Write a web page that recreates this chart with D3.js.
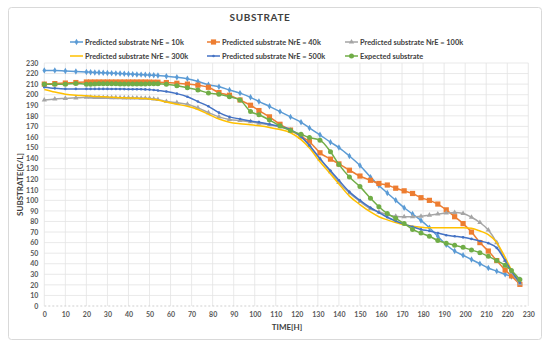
<!DOCTYPE html>
<html><head><meta charset="utf-8">
<script src="https://cdn.jsdelivr.net/npm/d3@7/dist/d3.min.js"></script>
<style>body{margin:0;background:#fff;}svg{display:block;}</style>
</head><body>
<svg id="c" width="550" height="348"></svg>
<script>
const title = "SUBSTRATE";
const xLabel = "TIME[H]";
const yLabel = "SUBSTRATE[G/L]";
const xTicks = d3.range(0, 231, 10);
const yTicks = d3.range(0, 231, 10);
const seriesNames = ["Predicted substrate NrE = 10k","Predicted substrate NrE = 40k","Predicted substrate NrE = 100k","Predicted substrate NrE = 300k","Predicted substrate NrE = 500k","Expected substrate"];
const seriesColors = ["#5B9BD5","#ED7D31","#A5A5A5","#FFC000","#4472C4","#70AD47"];
const seriesMarkers = ["diamond","square","triangle","none","dot","circle"];

const time = [0,5,10,15,20,22,24,26,28,30,32,34,36,38,40,42,44,46,48,50,52,54,58,63,68,73,78,83,88,93,98,102,107,112,117,122,126,131,136,140,145,150,155,159,163,167,171,175,179,183,187,191,195,199,203,207,211,215,219,222,226];

const s10k = [223,223,222.5,222,221.5,221.3,221.1,221,220.8,220.6,220.4,220.2,220,219.8,219.6,219.4,219.2,219,218.8,218.6,218.4,218.2,
217.5,216.5,215,212.5,209.5,207.5,204.5,201.5,197.5,
193.5,189,184,179,174,168.5,162,155,150,142,133,
122,114,107,100,93,87,81,74,66,58,52,48,44,40,36,33,30,28,25];
const s40k = [210,210.5,211,211.5,212,212,212,212,212,212,212,212,212,212,212,212,212,212,212,211.9,211.8,211.8,
211.5,210.8,210,209,207,202,199.5,195,190,
185,179,172,166.5,160.5,155.5,145,139,134.5,128.5,123,
119,116,114.5,111.5,109,106.5,102.5,100,96.5,91,84.5,78,70,60,52,43,34,28.5,20.5];
const s100k = [195,196,196.5,197,197.5,197.5,197.4,197.4,197.3,197.3,197.2,197.2,197.1,197,197,196.9,196.8,196.7,196.6,196.5,196,195.5,
193.5,192.5,191,187.5,183,179,176.5,175.5,174.5,
173,171.5,169.5,166.5,160,152,139,127,117,107,99,
92,89,86.5,85,84.5,84.5,85,86,87,88,88.5,87.5,84,79,72,60,43,32,21];
const s300k = [205,202.5,200.5,199.5,199,198.7,198.4,198.2,198,197.8,197.6,197.4,197.2,197,196.9,196.8,196.6,196.5,196.3,196,195.5,195,
193,191,189,186,181.5,177,174,172.5,171.5,
170.5,169,167,164,157.5,149.5,136.5,125,115.5,104,96,
89,84.5,81.5,79,77,75.5,74.5,74,74,74,74,74,73.5,71,67.5,60,46,34,22];
const s500k = [207,206,205.5,205.5,205.5,205.5,205.5,205.5,205.5,205.5,205.4,205.4,205.3,205.3,205.2,205.2,205.1,205.1,205,204.8,204.5,204,
203,201,198,193.5,189,183,179,177,175,
174,172,170,167,160.5,152,139.5,128,119,108,100,
93,88.5,84,80.5,77.5,75,72.5,71,69,67,66,65,63.5,61.5,59.5,55,43,33,22];
const sExp = [210,210,210,210.5,210,210,210.2,210.3,210.3,210.3,210.3,210.3,210.2,210.2,210.2,210.2,210.2,210.2,210.2,210.3,210.3,210.4,
210,208.5,206.5,204.5,201.5,200.5,198,195,184,
181,176,170.5,166,162.5,159.5,157,146,134,122,113,
102,94,87.5,83,78,72.5,69,66,62,59.5,57.5,55.5,53,50.5,47,43,38.5,33.5,25];
const seriesValues = [s10k,s40k,s100k,s300k,s500k,sExp];

const svg = d3.select("#c");
const font = "Lato, 'Open Sans', sans-serif";
svg.append("rect").attr("x",8.5).attr("y",7.5).attr("width",533).attr("height",332)
  .attr("rx",3).attr("fill","#fff").attr("stroke","#D9D9D9").attr("stroke-width",1);

const x = d3.scaleLinear().domain([0,230]).range([44.3,528.3]);
const y = d3.scaleLinear().domain([0,230]).range([306,63]);

// grid
const g = svg.append("g");
g.selectAll(".hg").data(yTicks.filter(d=>d>0)).join("line")
  .attr("x1",x(0)).attr("x2",x(230)).attr("y1",d=>y(d)).attr("y2",d=>y(d))
  .attr("stroke","#E3E3E3").attr("stroke-width",0.8);
g.selectAll(".vg").data(xTicks.filter(d=>d>0)).join("line")
  .attr("y1",y(0)).attr("y2",y(230)).attr("x1",d=>x(d)).attr("x2",d=>x(d))
  .attr("stroke","#E3E3E3").attr("stroke-width",0.8);
g.append("line").attr("x1",x(0)).attr("x2",x(230)).attr("y1",y(0)).attr("y2",y(0))
  .attr("stroke","#CFCFCF").attr("stroke-width",1).attr("stroke-dasharray","2,2");
g.append("line").attr("x1",x(0)).attr("x2",x(0)).attr("y1",y(0)).attr("y2",y(230))
  .attr("stroke","#E3E3E3").attr("stroke-width",0.8);

// axes
const xAxis = d3.axisBottom(x).tickValues(xTicks).tickSize(0).tickPadding(6);
const yAxis = d3.axisLeft(y).tickValues(yTicks).tickSize(0).tickPadding(6);
const ax = svg.append("g").attr("transform",`translate(0,${y(0)})`).call(xAxis);
const ay = svg.append("g").attr("transform",`translate(${x(0)},0)`).call(yAxis);
[ax,ay].forEach(a=>{a.select(".domain").remove();
  a.selectAll("text").attr("font-family",font).attr("font-size",7).attr("font-weight","bold").attr("fill","#595959");});

// series
const line = d3.line().x(d=>x(d[0])).y(d=>y(d[1])).curve(d3.curveMonotoneX);
function marker(sel, type, color, cx, cy){
  if(type==="diamond") sel.append("path").attr("d",d3.symbol(d3.symbolDiamond,12)()).attr("transform",`translate(${cx},${cy})`).attr("fill",color);
  else if(type==="square") sel.append("rect").attr("x",cx-2.6).attr("y",cy-2.6).attr("width",5.2).attr("height",5.2).attr("fill",color);
  else if(type==="triangle") sel.append("path").attr("d",d3.symbol(d3.symbolTriangle,12)()).attr("transform",`translate(${cx},${cy})`).attr("fill",color);
  else if(type==="dot") sel.append("circle").attr("cx",cx).attr("cy",cy).attr("r",1.3).attr("fill",color);
  else if(type==="circle") sel.append("circle").attr("cx",cx).attr("cy",cy).attr("r",2.5).attr("fill",color);
}
seriesValues.forEach((vals,i)=>{
  const pts = time.map((t,j)=>[t,vals[j]]);
  const sg = svg.append("g");
  sg.append("path").attr("d",line(pts)).attr("fill","none").attr("stroke",seriesColors[i]).attr("stroke-width",1.5);
  if(seriesMarkers[i]!=="none") pts.forEach(p=>marker(sg,seriesMarkers[i],seriesColors[i],x(p[0]),y(p[1])));
});

// title & labels
svg.append("text").attr("x",260).attr("y",21).attr("text-anchor","middle").attr("font-family",font)
  .attr("font-size",10).attr("font-weight","bold").attr("fill","#404040").attr("letter-spacing",0.6).text(title);
svg.append("text").attr("x",287).attr("y",330).attr("text-anchor","middle").attr("font-family",font)
  .attr("font-size",8).attr("font-weight","bold").attr("fill","#404040").text(xLabel);
svg.append("text").attr("transform",`translate(23,${(y(0)+y(230))/2}) rotate(-90)`).attr("text-anchor","middle").attr("font-family",font)
  .attr("font-size",8).attr("font-weight","bold").attr("fill","#404040").text(yLabel);

// legend
const legX = [70,207,345], legY = [42,56];
seriesNames.forEach((n,i)=>{
  const lx = legX[i%3], ly = legY[Math.floor(i/3)];
  const lg = svg.append("g");
  lg.append("line").attr("x1",lx).attr("x2",lx+13).attr("y1",ly).attr("y2",ly).attr("stroke",seriesColors[i]).attr("stroke-width",1.5);
  if(seriesMarkers[i]!=="none") marker(lg,seriesMarkers[i],seriesColors[i],lx+6.5,ly);
  lg.append("text").attr("x",lx+15).attr("y",ly+2.6).attr("font-family",font).attr("font-size",7.4)
    .attr("font-weight","bold").attr("fill","#404040").text(n);
});
</script>
</body></html>
